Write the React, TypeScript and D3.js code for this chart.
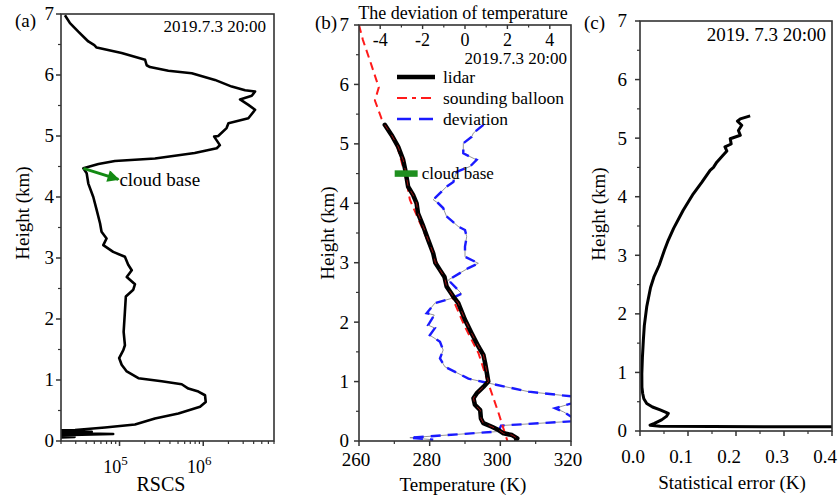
import React from 'react';
import * as d3 from 'd3';

// ---------- tick labels ----------
const heightTicks = [0, 1, 2, 3, 4, 5, 6, 7];
const heightMinor = [0.5, 1.5, 2.5, 3.5, 4.5, 5.5, 6.5];
const rscsTicks = [1e5, 1e6];
const rscsExp = ['5', '6'];
const rscsMinor = [2e4, 3e4, 4e4, 5e4, 6e4, 7e4, 8e4, 9e4, 2e5, 3e5, 4e5, 5e5, 6e5, 7e5, 8e5, 9e5, 2e6, 3e6, 4e6, 5e6, 6e6, 7e6];
const tempTicks = [260, 280, 300, 320];
const tempMinor = [270, 290, 310];
const devTicks = [-4, -2, 0, 2, 4];
const devMinor = [-3, -1, 1, 3];
const errTicks = [0.0, 0.1, 0.2, 0.3, 0.4];
const errMinor = [0.05, 0.15, 0.25, 0.35];

// ---------- panel (a): RSCS profile ----------
const rscsHeight = [6.98, 6.85, 6.71, 6.55, 6.49, 6.45, 6.36, 6.25, 6.16, 6.13, 6.07, 6.03, 5.92, 5.81, 5.75, 5.73, 5.66, 5.60, 5.51, 5.43, 5.29, 5.21, 5.13, 5.00, 4.99, 4.85, 4.80, 4.72, 4.63, 4.59, 4.54, 4.47, 4.39, 4.22, 4.00, 3.79, 3.57, 3.43, 3.32, 3.21, 3.10, 3.02, 2.89, 2.80, 2.69, 2.57, 2.48, 2.37, 2.12, 1.79, 1.57, 1.49, 1.36, 1.25, 1.14, 1.03, 0.98, 0.93, 0.86, 0.81, 0.75, 0.64, 0.56, 0.45, 0.37, 0.27, 0.22, 0.18, 0.165, 0.15, 0.135, 0.115, 0.09, 0.065, 0.05];
const rscsValue = [2.23e4, 2.56e4, 3.22e4, 4.24e4, 5.0e4, 5.33e4, 1.06e5, 2.02e5, 2.11e5, 2.31e5, 3.83e5, 7.29e5, 1.38e6, 2.19e6, 3.16e6, 4.16e6, 3.8e6, 2.75e6, 3.46e6, 4.16e6, 3.46e6, 2.0e6, 1.9e6, 1.51e6, 1.35e6, 1.58e6, 1.45e6, 7.9e5, 2.65e5, 8.8e4, 5.6e4, 3.7e4, 4.05e4, 4.24e4, 4.86e4, 5.33e4, 5.85e4, 6.1e4, 7.0e4, 6.4e4, 8.4e4, 1.16e5, 1.27e5, 1.4e5, 1.22e5, 1.53e5, 1.46e5, 1.19e5, 1.16e5, 1.12e5, 1.16e5, 1.11e5, 9.9e4, 1.06e5, 1.22e5, 1.68e5, 3.19e5, 5.53e5, 6.64e5, 8.75e5, 1.05e6, 1.07e6, 9.16e5, 5.05e5, 2.65e5, 1.53e5, 6.7e4, 2.94e4, 1.2e4, 4.66e4, 1.2e4, 8.4e4, 1.2e4, 2.9e4, 1.2e4];
const arrowFrom = { h: 4.47, v: 3.7e4 };
const arrowTo = { h: 4.29, v: 9.7e4 };

// ---------- panel (b): temperature ----------
const balloonHeight = [7.0, 6.75, 6.33, 5.95, 5.73, 5.42, 5.28, 5.0, 4.5, 4.06, 3.61, 3.21, 2.88, 2.71, 2.37, 1.92, 1.48, 0.97, 0.47, 0.0];
const balloonTemp = [260.0, 261.1, 263.5, 265.6, 264.5, 266.4, 267.8, 270.6, 273.0, 274.4, 277.7, 280.6, 282.9, 284.3, 286.7, 290.0, 293.8, 296.6, 299.5, 302.0];
const lidarHeight = [5.32, 5.15, 4.95, 4.73, 4.53, 4.28, 4.14, 4.00, 3.83, 3.61, 3.38, 3.16, 3.00, 2.88, 2.76, 2.60, 2.43, 2.32, 2.04, 1.81, 1.59, 1.45, 1.31, 1.14, 1.00, 0.91, 0.80, 0.72, 0.61, 0.52, 0.38, 0.30, 0.24, 0.185, 0.13, 0.10, 0.045, 0.02];
const lidarTemp = [267.3, 269.2, 271.1, 272.5, 273.2, 273.9, 275.3, 276.3, 276.7, 278.2, 279.6, 281.0, 281.6, 282.9, 284.2, 284.8, 286.7, 288.1, 290.0, 291.9, 293.8, 295.2, 295.7, 296.2, 296.6, 295.2, 293.3, 292.4, 292.8, 294.3, 294.5, 295.2, 297.6, 299.5, 300.9, 303.3, 304.8, 304.5];
const devHeight = [5.32, 5.18, 5.12, 5.01, 4.84, 4.73, 4.62, 4.53, 4.36, 4.28, 4.17, 4.06, 4.00, 3.92, 3.78, 3.61, 3.55, 3.44, 3.27, 3.10, 2.99, 2.91, 2.71, 2.48, 2.40, 2.32, 2.15, 2.12, 1.95, 1.90, 1.78, 1.67, 1.53, 1.39, 1.25, 1.05, 0.98, 0.83, 0.75, 0.69, 0.63, 0.55, 0.49, 0.41, 0.37, 0.33, 0.26, 0.16, 0.056, 0.02];
const devValue = [0.87, 0.39, 0.32, -0.08, -0.08, 0.55, 0.24, -0.39, -0.55, -0.87, -1.18, -1.5, -1.26, -1.03, -0.87, -0.32, 0.0, 0.08, 0.0, 0.0, 0.63, 0.16, -0.79, -0.16, -0.63, -1.42, -1.81, -1.45, -1.74, -1.42, -1.66, -1.18, -1.03, -1.18, -0.95, 0.16, 1.03, 3.0, 5.05, 6.5, 5.0, 4.25, 4.65, 5.0, 6.5, 5.0, 1.7, 1.58, -2.6, -1.5];
const cloudBaseHeight = 4.5;
const cloudBaseTemp = [270.1, 276.6];

// ---------- panel (c): statistical error ----------
const errHeight = [5.38, 5.33, 5.29, 5.22, 5.13, 5.05, 4.99, 4.9, 4.85, 4.78, 4.7, 4.59, 4.5, 4.45, 4.25, 4.05, 3.77, 3.46, 3.26, 3.09, 2.83, 2.63, 2.45, 2.12, 1.8, 1.55, 1.25, 0.98, 0.75, 0.64, 0.55, 0.47, 0.41, 0.36, 0.30, 0.25, 0.19, 0.13, 0.10, 0.08, 0.068];
const errValue = [0.2295, 0.209, 0.203, 0.212, 0.205, 0.209, 0.188, 0.19, 0.177, 0.181, 0.172, 0.160, 0.153, 0.146, 0.129, 0.111, 0.090, 0.070, 0.059, 0.051, 0.040, 0.029, 0.022, 0.014, 0.009, 0.007, 0.005, 0.0038, 0.004, 0.0056, 0.008, 0.014, 0.026, 0.042, 0.059, 0.055, 0.045, 0.030, 0.021, 0.042, 0.5];

const W = 839;
const H = 497;
const FONT = '"Liberation Serif", "Times New Roman", serif';
const AXIS = '#333';

type Box = { l: number; r: number; t: number; b: number };
const boxA: Box = { l: 61, r: 274, t: 14, b: 441 };
const boxB: Box = { l: 359, r: 571, t: 25, b: 441 };
const boxC: Box = { l: 640, r: 832, t: 21, b: 431 };

const xA = d3.scaleLog().domain([2e4, 7e6]).range([boxA.l, boxA.r]);
const yA = d3.scaleLinear().domain([0, 7]).range([boxA.b, boxA.t]);
const xB = d3.scaleLinear().domain([260, 320]).range([boxB.l, boxB.r]);
const xBtop = d3.scaleLinear().domain([-5, 5]).range([boxB.l, boxB.r]);
const yB = d3.scaleLinear().domain([0, 7]).range([boxB.b, boxB.t]);
const xC = d3.scaleLinear().domain([0, 0.4]).range([boxC.l, boxC.r]);
const yC = d3.scaleLinear().domain([0, 7]).range([boxC.b, boxC.t]);

function pathFrom(xs: number[], ys: number[], x: (v: number) => number, y: (v: number) => number) {
  const pts = xs.map((v, i) => [x(v), y(ys[i])] as [number, number]);
  return d3.line()(pts) || '';
}

function YAxis({ box, y, gap }: { box: Box; y: d3.ScaleLinear<number, number>; gap: number }) {
  return (
    <g>
      {heightTicks.map((t) => (
        <g key={'M' + t}>
          <line x1={box.l - 5} x2={box.l} y1={y(t)} y2={y(t)} stroke={AXIS} strokeWidth={1.5} />
          <text x={box.l - gap} y={y(t)} dy="0.34em" textAnchor="end" fontSize={19}>{t}</text>
        </g>
      ))}
      {heightMinor.map((t) => (
        <line key={'m' + t} x1={box.l - 3} x2={box.l} y1={y(t)} y2={y(t)} stroke={AXIS} strokeWidth={1.2} />
      ))}
    </g>
  );
}

function Frame({ box }: { box: Box }) {
  return <rect x={box.l} y={box.t} width={box.r - box.l} height={box.b - box.t} fill="none" stroke={AXIS} strokeWidth={1.6} />;
}

export default function App() {
  const clipA = 'clipA', clipB = 'clipB', clipC = 'clipC';
  return (
    <svg width={W} height={H} style={{ position: 'absolute', left: 0, top: 0, background: '#fff' }} fontFamily={FONT}>
      <defs>
        {[['clipA', boxA], ['clipB', boxB], ['clipC', boxC]].map(([id, b]: any) => (
          <clipPath id={id} key={id}>
            <rect x={b.l} y={b.t} width={b.r - b.l} height={b.b - b.t} />
          </clipPath>
        ))}
        <marker id="arrowG" viewBox="0 0 10 10" refX="9" refY="5" markerWidth="5" markerHeight="4" orient="auto" markerUnits="strokeWidth">
          <path d="M0,0 L10,5 L0,10 z" fill="#138a13" />
        </marker>
      </defs>

      {/* ================= Panel (a) ================= */}
      <g>
        <path d={pathFrom(rscsValue, rscsHeight, xA, yA)} fill="none" stroke="#000" strokeWidth={2.6} strokeLinejoin="round" clipPath={`url(#${clipA})`} />
        <line x1={xA(arrowFrom.v)} y1={yA(arrowFrom.h)} x2={xA(arrowTo.v)} y2={yA(arrowTo.h)} stroke="#138a13" strokeWidth={3} markerEnd="url(#arrowG)" />
        <text x={xA(arrowTo.v) + 1} y={yA(arrowTo.h) + 7} fontSize={19}>cloud base</text>
        <Frame box={boxA} />
        <YAxis box={boxA} y={yA} gap={7} />
        {rscsTicks.map((t, i) => (
          <g key={t}>
            <line x1={xA(t)} x2={xA(t)} y1={boxA.b} y2={boxA.b + 5} stroke={AXIS} strokeWidth={1.5} />
            <text x={xA(t) - 4} y={473} textAnchor="middle" fontSize={18}>
              10<tspan dy={-8} fontSize={13}>{rscsExp[i]}</tspan>
            </text>
          </g>
        ))}
        {rscsMinor.map((t) => (
          <line key={t} x1={xA(t)} x2={xA(t)} y1={boxA.b} y2={boxA.b + 3} stroke={AXIS} strokeWidth={1.2} />
        ))}
        <text x={161} y={491} textAnchor="middle" fontSize={20}>RSCS</text>
        <text transform={`translate(29,${213}) rotate(-90)`} textAnchor="middle" fontSize={19}>Height (km)</text>
        <text x={15} y={27} fontSize={19}>(a)</text>
        <text x={266} y={32} textAnchor="end" fontSize={17}>2019.7.3 20:00</text>
      </g>

      {/* ================= Panel (b) ================= */}
      <g>
        <g clipPath={`url(#${clipB})`}>
          <path d={pathFrom(devValue, devHeight, xBtop, yB)} fill="none" stroke="#8a8a8a" strokeWidth={0.9} />
          <path d={pathFrom(devValue, devHeight, xBtop, yB)} fill="none" stroke="#1a1aff" strokeWidth={2.4} strokeDasharray="10,7" />
          <path d={pathFrom(balloonTemp, balloonHeight, xB, yB)} fill="none" stroke="#ff1a1a" strokeWidth={2} strokeDasharray="8,5" />
          <path d={pathFrom(lidarTemp, lidarHeight, xB, yB)} fill="none" stroke="#000" strokeWidth={4.5} strokeLinejoin="round" strokeLinecap="round" />
          <path d={pathFrom(lidarTemp, lidarHeight, xB, yB)} fill="none" stroke="#ff1a1a" strokeWidth={1} strokeDasharray="6,6" opacity={0.6} />
        </g>
        <line x1={xB(cloudBaseTemp[0])} x2={xB(cloudBaseTemp[1])} y1={yB(cloudBaseHeight)} y2={yB(cloudBaseHeight)} stroke="#1f8f1f" strokeWidth={6.5} />
        <text x={xB(cloudBaseTemp[1]) + 4} y={yB(cloudBaseHeight) + 5} fontSize={17}>cloud base</text>

        {/* legend */}
        <line x1={397} x2={435} y1={77} y2={77} stroke="#000" strokeWidth={4.5} />
        <text x={443} y={83} fontSize={17.5}>lidar</text>
        <line x1={397} x2={435} y1={98} y2={98} stroke="#ff1a1a" strokeWidth={2.2} strokeDasharray="10,5,4,5" />
        <text x={443} y={104} fontSize={17.5}>sounding balloon</text>
        <line x1={397} x2={435} y1={119} y2={119} stroke="#1a1aff" strokeWidth={2.6} strokeDasharray="14,8" />
        <text x={443} y={125} fontSize={17.5}>deviation</text>
        <text x={567} y={64} textAnchor="end" fontSize={17}>2019.7.3 20:00</text>

        <Frame box={boxB} />
        <YAxis box={boxB} y={yB} gap={10} />
        {tempTicks.map((t) => (
          <g key={t}>
            <line x1={xB(t)} x2={xB(t)} y1={boxB.b} y2={boxB.b + 5} stroke={AXIS} strokeWidth={1.5} />
            <text x={xB(t) - 3} y={466} textAnchor="middle" fontSize={19}>{t}</text>
          </g>
        ))}
        {tempMinor.map((t) => (
          <line key={t} x1={xB(t)} x2={xB(t)} y1={boxB.b} y2={boxB.b + 3} stroke={AXIS} strokeWidth={1.2} />
        ))}
        {devTicks.map((t) => (
          <g key={t}>
            <line x1={xBtop(t)} x2={xBtop(t)} y1={boxB.t} y2={boxB.t + 4} stroke={AXIS} strokeWidth={1.4} />
            <text x={xBtop(t)} y={46} textAnchor="middle" fontSize={18}>{t}</text>
          </g>
        ))}
        {devMinor.map((t) => (
          <line key={t} x1={xBtop(t)} x2={xBtop(t)} y1={boxB.t} y2={boxB.t + 2.5} stroke={AXIS} strokeWidth={1.2} />
        ))}
        <text x={463} y={19} textAnchor="middle" fontSize={18}>The deviation of temperature</text>
        <text x={463} y={491} textAnchor="middle" fontSize={19}>Temperature  (K)</text>
        <text transform={`translate(334,${233}) rotate(-90)`} textAnchor="middle" fontSize={19}>Height (km)</text>
        <text x={315} y={29} fontSize={19}>(b)</text>
      </g>

      {/* ================= Panel (c) ================= */}
      <g>
        <path d={pathFrom(errValue, errHeight, xC, yC)} fill="none" stroke="#000" strokeWidth={3} strokeLinejoin="round" clipPath={`url(#${clipC})`} />
        <Frame box={boxC} />
        <YAxis box={boxC} y={yC} gap={13} />
        {errTicks.map((t) => (
          <g key={t}>
            <line x1={xC(t)} x2={xC(t)} y1={boxC.b} y2={boxC.b + 5} stroke={AXIS} strokeWidth={1.5} />
            <text x={xC(t) - 7} y={463} textAnchor="middle" fontSize={19}>{t.toFixed(1)}</text>
          </g>
        ))}
        {errMinor.map((t) => (
          <line key={t} x1={xC(t)} x2={xC(t)} y1={boxC.b} y2={boxC.b + 3} stroke={AXIS} strokeWidth={1.2} />
        ))}
        <text x={732} y={489} textAnchor="middle" fontSize={19}>Statistical error (K)</text>
        <text transform={`translate(605,${214}) rotate(-90)`} textAnchor="middle" fontSize={19}>Height (km)</text>
        <text x={584} y={29} fontSize={19}>(c)</text>
        <text x={826} y={41} textAnchor="end" fontSize={19}>2019. 7.3 20:00</text>
      </g>
    </svg>
  );
}
